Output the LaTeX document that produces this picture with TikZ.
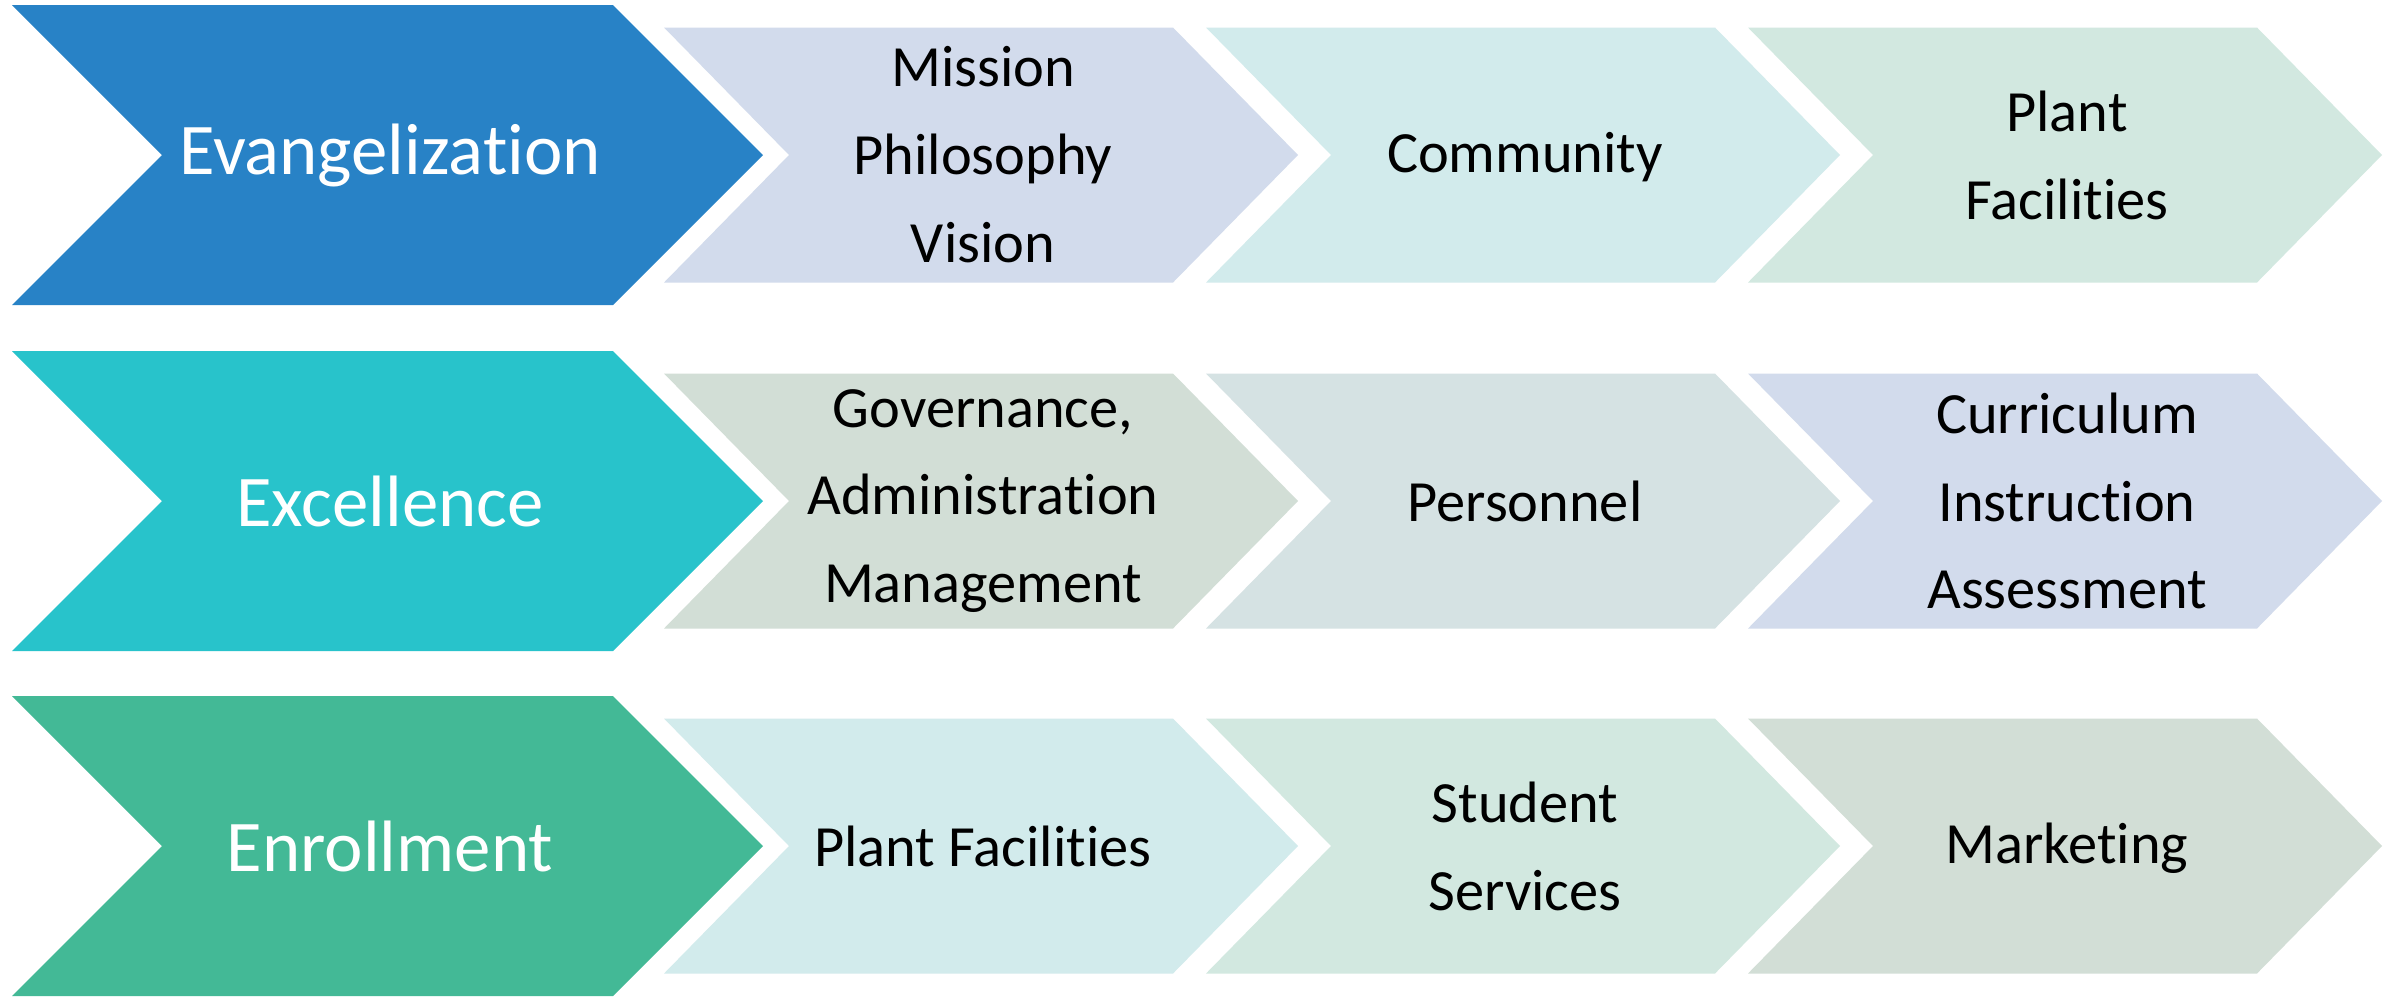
\documentclass[tikz,border=0pt]{standalone}
\usepackage{fontspec}
\setmainfont{Carlito}[Ligatures={NoCommon}]
\newcommand\Tsep{t\kern0pt i}
\definecolor{cEvang}{HTML}{2882C6}
\definecolor{cExcel}{HTML}{28C3CB}
\definecolor{cEnrol}{HTML}{43B996}
\definecolor{cLav}{HTML}{D2DBEC}
\definecolor{cAqua}{HTML}{D2EBEC}
\definecolor{cMint}{HTML}{D2E8E0}
\definecolor{cSage}{HTML}{D2DED6}
\definecolor{cGrey}{HTML}{D5E2E3}
\newcommand\chevshape[6]{%
  \fill[#6] (#1,#2-#4) -- (#1+#3-#5,#2-#4) -- (#1+#3,#2) -- (#1+#3-#5,#2+#4)
    -- (#1,#2+#4) -- (#1+#5,#2) -- cycle;}
\tikzset{
  bigtxt/.style={text=white, font=\fontsize{20.7}{25}\selectfont, inner sep=0pt},
  smalltxt/.style={text=black, font=\fontsize{16.6}{25}\selectfont, align=center, inner sep=0pt},
}
\begin{document}
\begin{tikzpicture}[x=0.01cm, y=-0.01cm]
\path[fill=white] (0,0) rectangle (2394,996);
\useasboundingbox (0,0) rectangle (2394,996);
% row 1
\chevshape{12}{155}{751}{150}{150}{cEvang}
\chevshape{664}{155}{634}{127.5}{125}{cLav}
\chevshape{1206}{155}{634}{127.5}{125}{cAqua}
\chevshape{1748}{155}{634}{127.5}{125}{cMint}
% row 2
\chevshape{12}{501}{751}{150}{150}{cExcel}
\chevshape{664}{501}{634}{127.5}{125}{cSage}
\chevshape{1206}{501}{634}{127.5}{125}{cGrey}
\chevshape{1748}{501}{634}{127.5}{125}{cLav}
% row 3
\chevshape{12}{846}{751}{150}{150}{cEnrol}
\chevshape{664}{846}{634}{127.5}{125}{cAqua}
\chevshape{1206}{846}{634}{127.5}{125}{cMint}
\chevshape{1748}{846}{634}{127.5}{125}{cSage}
% labels
\node[bigtxt] (evang) at (390,155) {Evangeliza\Tsep on};
\node[smalltxt] (mission) at (983,155) {Mission\\Philosophy\\Vision};
\node[smalltxt] (community) at (1525,157) {Community};
\node[smalltxt] (plant1) at (2067,155) {Plant\\Facili\Tsep es};
\node[bigtxt] (excel) at (390,501) {Excellence};
\node[smalltxt] (govern) at (983,501) {Governance,\\Administra\Tsep on\\Management};
\node[smalltxt] (personnel) at (1525,501) {Personnel};
\node[smalltxt] (curric) at (2067,501) {Curriculum\\Instruc\Tsep on\\Assessment};
\node[bigtxt] (enrol) at (390,846) {Enrollment};
\node[smalltxt] (plant3) at (983,846) {Plant Facili\Tsep es};
\node[smalltxt] (student) at (1525,846) {Student\\Services};
\node[smalltxt] (marketing) at (2067,848) {Marketing};
\end{tikzpicture}
\end{document}
